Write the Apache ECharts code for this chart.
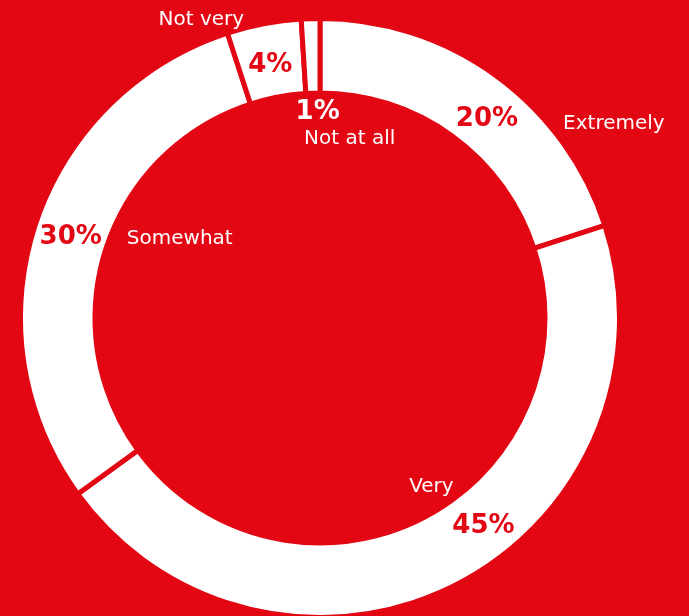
<!DOCTYPE html>
<html>
<head>
<meta charset="utf-8">
<script src="https://cdn.jsdelivr.net/npm/echarts@6/dist/echarts.min.js"></script>
<style>
html,body{margin:0;padding:0;background:#E30613;}
#chart{width:689px;height:616px;}
</style>
</head>
<body>
<div id="chart"></div>
<script>
const categories = ["Extremely", "Very", "Somewhat", "Not very", "Not at all"];
const values = [20, 45, 30, 4, 1];

const RED = "#E30613";
const FONT = "'DejaVu Sans', sans-serif";
// label offsets from default inside position (styling only)
const pctShift = [[11, 16], [43, -28], [3, 1], [0, 8], [6, 59]];
const nameShift = [[138, 20], [-9, -68], [112, 3], [-69, -38], [38, 86]];
const pctColor = [RED, RED, RED, RED, "#ffffff"];

const data = categories.map((c, i) => ({ name: c, value: values[i] }));
const pctData = categories.map((c, i) => ({
  name: c, value: values[i], label: { color: pctColor[i] }
}));

const chart = echarts.init(document.getElementById("chart"));
chart.setOption({
  backgroundColor: RED,
  animation: false,
  series: [
    {
      type: "pie",
      center: [320, 318],
      radius: [225, 299.5],
      startAngle: 90,
      clockwise: true,
      silent: true,
      data: pctData,
      itemStyle: { color: "#ffffff", borderColor: RED, borderWidth: 5 },
      label: {
        show: true, position: "inside", formatter: "{c}%",
        fontFamily: FONT, fontWeight: "bold", fontSize: 26
      },
      labelLine: { show: false },
      labelLayout: p => ({ dx: pctShift[p.dataIndex][0], dy: pctShift[p.dataIndex][1] })
    },
    {
      type: "pie",
      center: [320, 318],
      radius: [225, 299.5],
      startAngle: 90,
      clockwise: true,
      silent: true,
      data: data,
      itemStyle: { color: "transparent", borderWidth: 0 },
      label: {
        show: true, position: "inside", formatter: "{b}",
        color: "#ffffff", fontFamily: FONT, fontWeight: "normal", fontSize: 20
      },
      labelLine: { show: false },
      labelLayout: p => ({ dx: nameShift[p.dataIndex][0], dy: nameShift[p.dataIndex][1] })
    }
  ]
});
</script>
</body>
</html>
